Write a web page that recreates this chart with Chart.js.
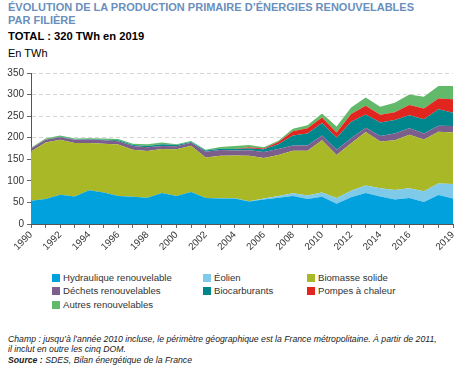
<!DOCTYPE html>
<html lang="fr">
<head>
<meta charset="utf-8">
<title>Production primaire d'énergies renouvelables</title>
<script src="https://cdn.jsdelivr.net/npm/chart.js@4/dist/chart.umd.min.js"></script>
<style>
  body { margin: 0; width: 467px; height: 374px; background: #fff; font-family: "Liberation Sans", Arial, sans-serif; position: relative; overflow: hidden; }
  .title { position: absolute; left: 8px; top: 1px; color: #6b8fbd; font-weight: bold; font-size: 11px; line-height: 13px; }
  .total { position: absolute; left: 8px; top: 30px; font-weight: bold; font-size: 11.2px; color: #000; }
  .unit { position: absolute; left: 8px; top: 47px; font-size: 11px; color: #000; }
  #wrap { position: absolute; left: 0; top: 60px; width: 467px; height: 200px; }
  .legend { position: absolute; left: 0; top: 272px; width: 467px; font-size: 9.6px; color: #333; }
  .item { position: absolute; white-space: nowrap; line-height: 12px; }
  .item i { display: inline-block; width: 8px; height: 8px; margin-right: 3px; vertical-align: -1px; }
  .note { position: absolute; left: 8px; top: 334px; font-size: 8.7px; font-style: italic; color: #222; line-height: 10.3px; }
</style>
</head>
<body>
<div class="title">ÉVOLUTION DE LA PRODUCTION PRIMAIRE D’ÉNERGIES RENOUVELABLES<br>PAR FILIÈRE</div>
<div class="total">TOTAL : 320 TWh en 2019</div>
<div class="unit">En TWh</div>
<div id="wrap"><canvas id="area-chart" width="467" height="200"></canvas></div>
<div class="legend" id="legend"></div>
<div class="note">Champ : jusqu’à l’année 2010 incluse, le périmètre géographique est la France métropolitaine. À partir de 2011,<br>il inclut en outre les cinq DOM.<br><b>Source :</b> SDES, Bilan énergétique de la France</div>
<script>
const years = [1990, 1991, 1992, 1993, 1994, 1995, 1996, 1997, 1998, 1999,
  2000, 2001, 2002, 2003, 2004, 2005, 2006, 2007, 2008, 2009,
  2010, 2011, 2012, 2013, 2014, 2015, 2016, 2017, 2018, 2019];

const hydraulique = [54, 58, 68, 64, 78, 73, 65, 63, 61, 72, 65, 74, 60, 59, 59, 52, 57, 61, 65, 58, 63, 47, 62, 72, 64, 57, 60, 51, 67, 59];
const eolien = [0, 0, 0, 0, 0, 0, 0, 0, 0, 0, 0.1, 0.1, 0.3, 0.4, 0.6, 1, 2, 4, 6, 8, 10, 13, 15, 17, 19, 22, 23, 25, 27, 34];
const biomasse = [114, 131, 127, 124, 110, 113, 119, 109, 108, 102, 108, 107, 94, 99, 99, 105, 94, 95, 99, 104, 121, 100, 110, 124, 108, 115, 124, 120, 120, 119];
const dechets = [7, 6, 6, 7, 8, 8, 8, 9, 9, 7, 7, 7, 13, 13, 12, 13, 14, 14, 12, 12, 11, 12, 12, 10, 13, 16, 15, 14, 14, 15];
const biocarburants = [0, 0, 1, 1, 1, 1, 2, 2, 3, 4, 3, 2, 3, 3, 3, 4, 6, 11, 23, 28, 29, 28, 38, 31, 31, 31, 30, 33, 38, 31];
const pompes = [0, 0, 0, 0, 0, 0, 0, 0, 0, 0, 0, 0, 0, 0, 0, 3, 2, 5, 10, 12, 13, 12, 18, 20, 18, 18, 24, 25, 25, 31];
const autres = [2, 3, 3, 2, 2, 3, 3, 3, 4, 4, 2, 2, 2, 4, 7, 5, 3, 3, 6, 7, 9, 14, 15, 19, 19, 22, 24, 27, 29, 31];

const yTicks = [0, 50, 100, 150, 200, 250, 300, 350];

const series = [
  { label: 'Hydraulique renouvelable', data: hydraulique, color: '#00a1dd' },
  { label: 'Éolien', data: eolien, color: '#7fc9e9' },
  { label: 'Biomasse solide', data: biomasse, color: '#a9b827' },
  { label: 'Déchets renouvelables', data: dechets, color: '#7b5e8c' },
  { label: 'Biocarburants', data: biocarburants, color: '#00878d' },
  { label: 'Pompes à chaleur', data: pompes, color: '#e1251f' },
  { label: 'Autres renouvelables', data: autres, color: '#62b96a' },
];

// légende en trois colonnes
function buildLegend() {
  const cols = [52, 203, 307];
  const rows = [0, 13, 26.5];
  const box = document.getElementById('legend');
  series.forEach((s, i) => {
    const el = document.createElement('div');
    el.className = 'item';
    el.style.left = cols[i % 3] + 'px';
    el.style.top = rows[Math.floor(i / 3)] + 'px';
    el.innerHTML = '<i style="background:' + s.color + '"></i>' + s.label;
    box.appendChild(el);
  });
}

function createAreaChart() {
  const ctx = document.getElementById('area-chart').getContext('2d');
  new Chart(ctx, {
    type: 'line',
    data: {
      labels: years,
      datasets: series.map((s, i) => ({
        label: s.label,
        data: s.data,
        backgroundColor: s.color,
        borderColor: s.color,
        borderWidth: 0,
        pointRadius: 0,
        tension: 0,
        fill: i === 0 ? 'origin' : '-1',
      })),
    },
    options: {
      responsive: false,
      animation: false,
      layout: { padding: { top: 13, right: 14, left: 0, bottom: 0 } },
      plugins: { legend: { display: false }, tooltip: { enabled: false } },
      scales: {
        x: {
          offset: false,
          grid: { drawOnChartArea: false, drawTicks: true, tickLength: 4, tickColor: '#666' },
          border: { display: true, color: '#555', width: 1 },
          ticks: {
            autoSkip: false,
            minRotation: 45,
            maxRotation: 45,
            padding: 1,
            color: '#333',
            font: { family: 'Liberation Sans', size: 9.8 },
            callback: function (value, index) {
              const y = years[index];
              return (y % 2 === 0 && y !== 2018) || y === 2019 ? String(y) : '';
            },
          },
          afterFit: function (scale) {
            scale.height = 36;
            scale.paddingLeft = 0;
            scale.paddingRight = 0;
          },
        },
        y: {
          stacked: true,
          min: yTicks[0],
          max: yTicks[yTicks.length - 1],
          grid: { color: '#d6d6d6', tickColor: '#666', tickLength: 4, tickBorderDash: [] },
          border: { display: true, color: '#555', width: 1, dash: [4, 3] },
          ticks: {
            stepSize: 50,
            padding: 3,
            color: '#333',
            font: { family: 'Liberation Sans', size: 10 },
          },
          afterBuildTicks: function (scale) {
            scale.ticks = yTicks.map(v => ({ value: v }));
          },
          afterFit: function (scale) {
            scale.width = 31;
          },
        },
      },
    },
  });
}

document.addEventListener('DOMContentLoaded', () => {
  buildLegend();
  createAreaChart();
});
</script>
</body>
</html>
